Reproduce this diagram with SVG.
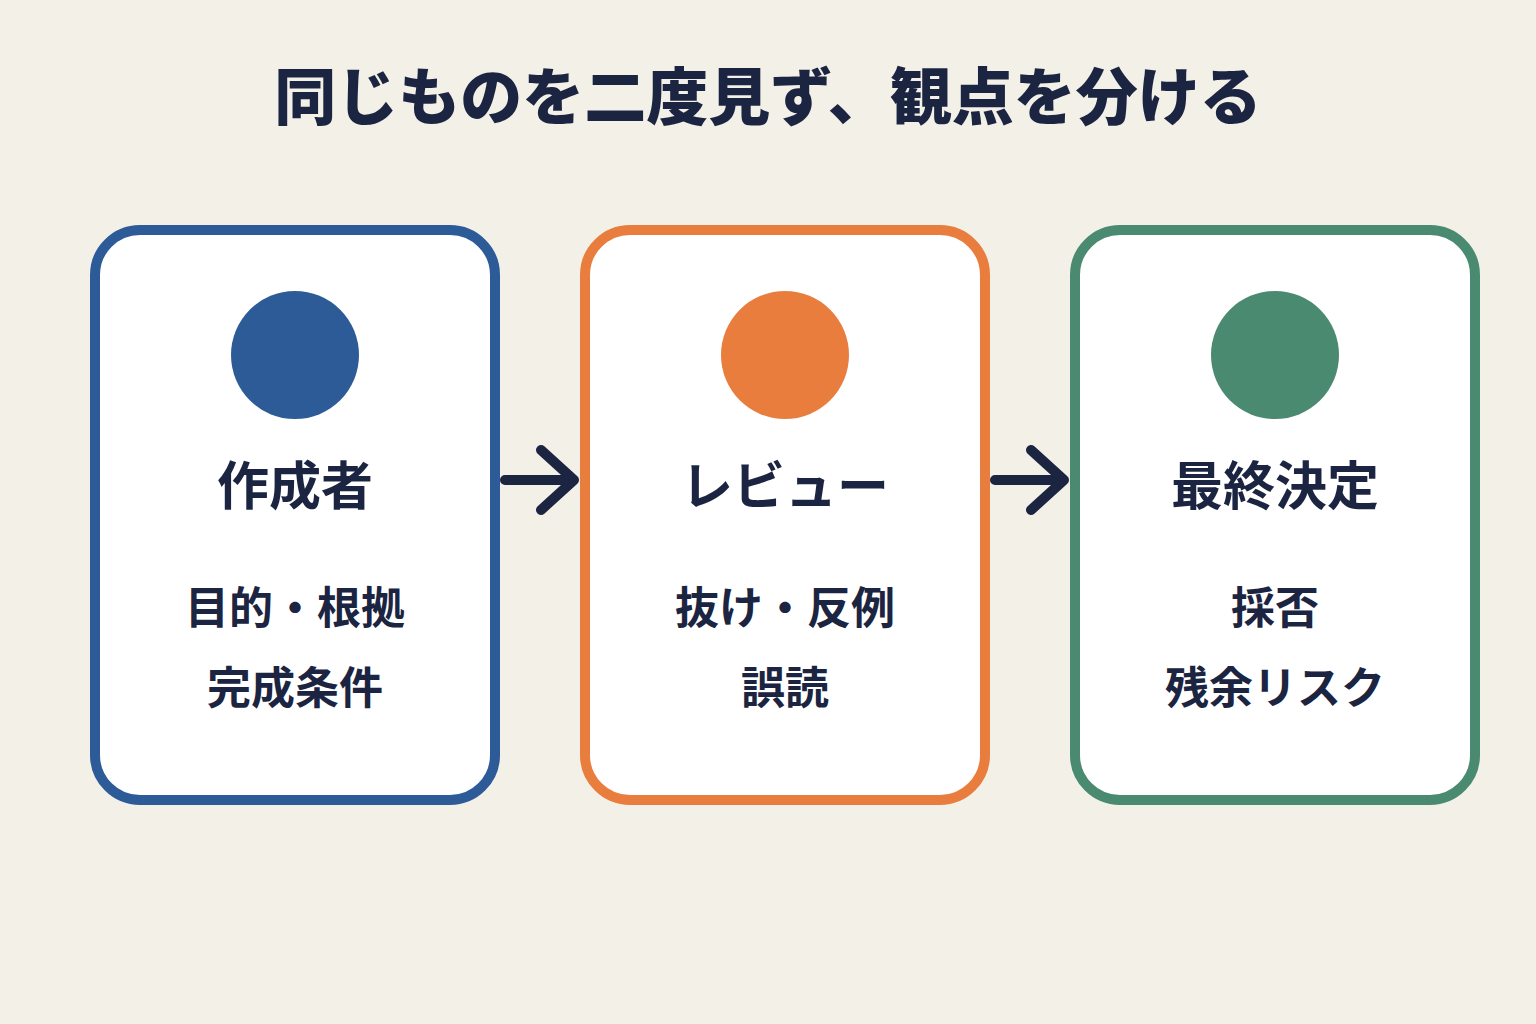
<svg xmlns="http://www.w3.org/2000/svg" width="1536" height="1024" viewBox="0 0 1536 1024">
<style>
text{font-family:"Noto Sans CJK JP","Noto Sans",sans-serif;fill:#1B2440;text-anchor:middle}
.title{font-size:62px;font-weight:900}
.h{font-size:52px;font-weight:700}
.b{font-size:44px;font-weight:700}
.card{fill:#fff;stroke-width:10}
.arr{fill:none;stroke:#1B2440;stroke-width:10;stroke-linecap:round;stroke-linejoin:round}
</style>
<rect width="1536" height="1024" fill="#F3F0E8"/>
<text class="title" x="768" y="120">同じものを二度見ず、観点を分ける</text>
<g id="node1">
<rect class="card" x="95" y="230" width="400" height="570" rx="45" stroke="#2D5B97"/>
<circle cx="295" cy="355" r="64" fill="#2D5B97"/>
<text class="h" x="295" y="505">作成者</text>
<text class="b" x="295" y="624">目的・根拠</text>
<text class="b" x="295" y="704">完成条件</text>
</g>
<g id="node2">
<rect class="card" x="585" y="230" width="400" height="570" rx="45" stroke="#E87D3E"/>
<circle cx="785" cy="355" r="64" fill="#E87D3E"/>
<text class="h" x="785" y="505">レビュー</text>
<text class="b" x="785" y="624">抜け・反例</text>
<text class="b" x="785" y="704">誤読</text>
</g>
<g id="node3">
<rect class="card" x="1075" y="230" width="400" height="570" rx="45" stroke="#4A8A71"/>
<circle cx="1275" cy="355" r="64" fill="#4A8A71"/>
<text class="h" x="1275" y="505">最終決定</text>
<text class="b" x="1275" y="624">採否</text>
<text class="b" x="1275" y="704">残余リスク</text>
</g>
<g id="connectors">
<path class="arr" d="M505 480H574M541 450L574 480L541 510"/>
<path class="arr" d="M995 480H1064M1031 450L1064 480L1031 510"/>
</g>
</svg>
